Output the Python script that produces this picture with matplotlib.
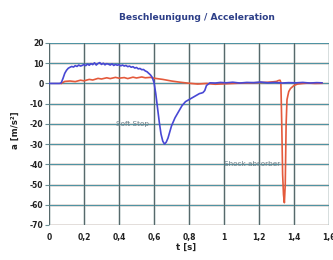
import matplotlib
matplotlib.use("Agg")
import matplotlib.pyplot as plt

plt.rcParams['axes.unicode_minus'] = False

# Soft Stop (blue)
t_soft = [0.00, 0.03, 0.06, 0.07, 0.08, 0.09, 0.10, 0.11, 0.12, 0.13, 0.14, 0.15,
          0.16, 0.17, 0.18, 0.19, 0.20, 0.21, 0.22, 0.23, 0.24, 0.25, 0.26, 0.27,
          0.28, 0.29, 0.30, 0.31, 0.32, 0.33, 0.34, 0.35, 0.36, 0.37, 0.38, 0.39,
          0.40, 0.41, 0.42, 0.43, 0.44, 0.45, 0.46, 0.47, 0.48, 0.49, 0.50, 0.51,
          0.52, 0.53, 0.54, 0.55, 0.56, 0.57, 0.58, 0.59, 0.60, 0.61,
          0.62, 0.63, 0.64, 0.65, 0.66, 0.67, 0.68, 0.69, 0.70, 0.72, 0.74, 0.76,
          0.78, 0.80, 0.82, 0.84, 0.86, 0.87, 0.88, 0.89, 0.90, 0.92, 0.95, 0.98,
          1.01, 1.05, 1.09, 1.13, 1.17, 1.21, 1.25, 1.29, 1.33, 1.37, 1.41, 1.45,
          1.49, 1.53, 1.56]
a_soft = [0.0, 0.0, 0.0, 0.3, 2.5, 5.0, 6.5, 7.5, 8.0, 8.4, 8.1, 8.8,
          8.4, 9.1, 8.6, 8.9, 9.4, 8.8, 9.6, 9.0, 9.8, 9.3, 10.2, 9.1,
          9.9, 10.3, 9.4, 10.0, 9.2, 9.8, 9.5, 9.1, 9.7, 8.9, 9.4, 9.0,
          9.3, 8.7, 9.1, 8.6, 8.9, 8.3, 8.6, 8.0, 8.3, 7.6, 7.9, 7.2,
          7.4, 6.8, 6.9, 6.2, 5.8, 5.0, 4.2, 3.0, 0.5, -5.0,
          -12.0, -19.0, -25.0, -28.5, -30.0, -29.0, -27.0, -24.0, -21.0, -17.0, -14.0, -11.0,
          -9.0, -8.0, -7.0, -6.0, -5.0, -4.8, -4.5, -3.5, -1.0, 0.3, 0.2, 0.5,
          0.3, 0.6, 0.2, 0.5, 0.4, 0.7, 0.3, 0.5, 0.2, 0.4, 0.3, 0.5,
          0.2, 0.4, 0.3]

# Shock absorber (red)
t_shock = [0.07, 0.08, 0.09, 0.12, 0.15, 0.18, 0.20, 0.23, 0.25, 0.28, 0.30, 0.33,
           0.35, 0.38, 0.40, 0.43, 0.45, 0.48, 0.50, 0.53,
           0.55, 0.58, 0.60, 0.65, 0.70, 0.75, 0.80, 0.85, 0.90, 0.95, 1.00, 1.05, 1.10,
           1.15, 1.20, 1.25, 1.28, 1.30, 1.31, 1.32, 1.325, 1.33, 1.335, 1.34, 1.345,
           1.35, 1.355, 1.36, 1.37, 1.38, 1.40, 1.42, 1.45, 1.48, 1.52, 1.56]
a_shock = [0.0, 0.5, 1.0, 1.2, 0.9, 1.6, 1.3, 2.0, 1.7, 2.5, 2.2, 2.8,
           2.4, 3.0, 2.6, 2.9, 2.4, 3.1, 2.7, 3.2,
           2.8, 3.0, 2.6, 2.0, 1.2, 0.6, 0.1, -0.3, 0.0, -0.4, -0.2, 0.0, 0.2,
           0.3, 0.4, 0.6, 0.8, 1.0, 1.4, 1.6, 0.5, -20.0, -45.0, -55.0, -59.0,
           -50.0, -20.0, -8.0, -4.0, -2.5, -1.0, -0.3, 0.0, 0.2, 0.0, 0.1]

yticks = [20, 10, 0, -10, -20, -30, -40, -50, -60, -70]
xticks = [0, 0.2, 0.4, 0.6, 0.8, 1.0, 1.2, 1.4, 1.6]
xticklabels = ["0", "0,2", "0,4", "0,6", "0,8", "1", "1,2", "1,4", "1,6"]

fig = plt.figure(figsize=(3.33, 2.6), dpi=100)
ax = fig.add_axes([49/333, 1 - 225/260, (329 - 49)/333, (225 - 43)/260])

for y in yticks:
    ax.axhline(y, color='#f8e2dc', lw=1.8, zorder=0.5)
    ax.axhline(y, color='#4f93a3', lw=0.9, zorder=1)
for x in xticks:
    ax.axvline(x, color='#e4eaea', lw=1.8, zorder=0.5)
    ax.axvline(x, color='#56696b', lw=0.9, zorder=1)

ax.plot(t_shock, a_shock, color='#e45a3c', lw=1.2, zorder=3)
ax.plot(t_soft, a_soft, color='#4848d4', lw=1.2, zorder=4)

ax.set_xlim(0, 1.6)
ax.set_ylim(-70, 20)
ax.set_yticks(yticks)
ax.set_yticklabels([str(v) for v in yticks])
ax.set_xticks(xticks)
ax.set_xticklabels(xticklabels)
for s in ax.spines.values():
    s.set_visible(False)
ax.tick_params(axis='y', length=3, width=0.8, color='#6a8f94', pad=1,
               labelsize=5.5, labelcolor='#222222')
ax.tick_params(axis='x', length=0, pad=6, labelsize=5.5, labelcolor='#222222')
for lab in ax.get_xticklabels() + ax.get_yticklabels():
    lab.set_fontweight('bold')

ax.text(0.48, -20, "Soft Stop", fontsize=5.2, color='#6a7f88',
        ha='center', va='center', zorder=5)
ax.text(1.16, -40, "Shock absorber", fontsize=5.2, color='#6a7f88',
        ha='center', va='center', zorder=5)

fig.text(15/333, 1 - 130/260, "a [m/s²]", rotation=90, fontsize=6.2,
         fontweight='bold', color='#222222', ha='center', va='center')
fig.text(186/333, 1 - 247/260, "t [s]", fontsize=6.2, fontweight='bold',
         color='#222222', ha='center', va='center')
fig.text(197/333, 1 - 18/260, "Beschleunigung / Acceleration", fontsize=6.6,
         fontweight='bold', color='#2d3f88', ha='center', va='center')

fig.savefig("out.png", dpi=100)
